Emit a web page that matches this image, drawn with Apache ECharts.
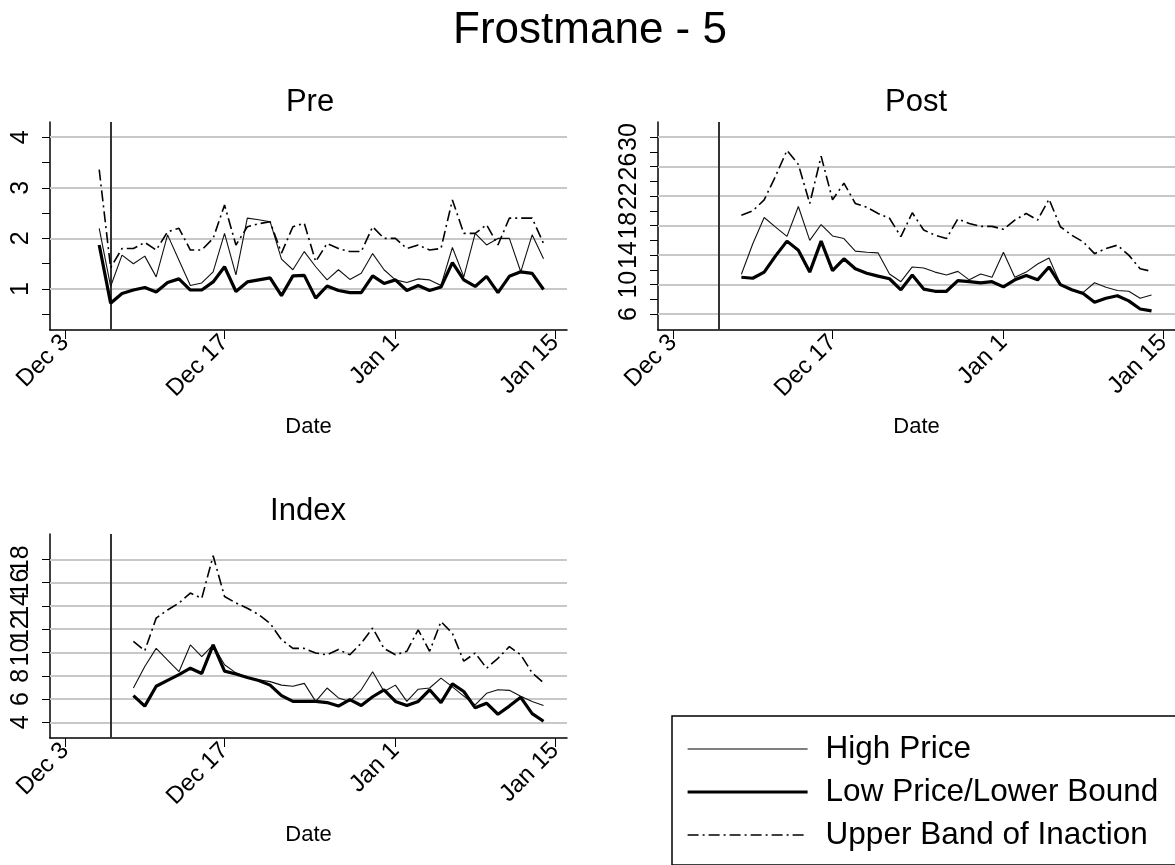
<!DOCTYPE html>
<html>
<head>
<meta charset="utf-8">
<script src="https://cdn.jsdelivr.net/npm/echarts@6/dist/echarts.min.js"></script>
<style>
  html, body { margin: 0; background: #fff; }
  #chart { width: 1175px; height: 865px; }
</style>
</head>
<body>
<div id="chart"></div>
<script>
// x ticks (dates) and their labels
const tickDates = ['2012-12-03', '2012-12-17', '2013-01-01', '2013-01-15'];
const tickLabels = ['Dec 3', 'Dec 17', 'Jan 1', 'Jan 15'];
const cutDate = '2012-12-07'; // vertical reference line

// Pre panel
const preDates = [
  '2012-12-06', '2012-12-07', '2012-12-08', '2012-12-09', '2012-12-10', '2012-12-11', '2012-12-12', '2012-12-13',
  '2012-12-14', '2012-12-15', '2012-12-16', '2012-12-17', '2012-12-18', '2012-12-19', '2012-12-20', '2012-12-21',
  '2012-12-22', '2012-12-23', '2012-12-24', '2012-12-25', '2012-12-26', '2012-12-27', '2012-12-28', '2012-12-29',
  '2012-12-30', '2012-12-31', '2013-01-01', '2013-01-02', '2013-01-03', '2013-01-04', '2013-01-05', '2013-01-06',
  '2013-01-07', '2013-01-08', '2013-01-09', '2013-01-10', '2013-01-11', '2013-01-12', '2013-01-13', '2013-01-14'
];
const preHigh = [2.2, 1.05, 1.67, 1.5, 1.65, 1.24, 2.07, 1.57, 1.07, 1.12, 1.34, 2.1, 1.28, 2.4, 2.37, 2.33,
  1.59, 1.38, 1.74, 1.44, 1.18, 1.38, 1.19, 1.31, 1.7, 1.38, 1.18, 1.13, 1.2, 1.18, 1.07, 1.82,
  1.24, 2.1, 1.87, 2.0, 2.0, 1.34, 2.07, 1.6];
const preLow = [1.87, 0.72, 0.91, 0.98, 1.03, 0.94, 1.13, 1.2, 0.98, 0.98, 1.14, 1.44, 0.95, 1.14, 1.18, 1.22,
  0.87, 1.26, 1.27, 0.82, 1.06, 0.97, 0.93, 0.93, 1.26, 1.11, 1.18, 0.97, 1.07, 0.97, 1.04, 1.52,
  1.18, 1.05, 1.25, 0.93, 1.25, 1.34, 1.31, 0.99];
const preUpper = [3.36, 1.42, 1.8, 1.8, 1.92, 1.77, 2.13, 2.2, 1.77, 1.77, 2.0, 2.66, 1.87, 2.23, 2.29, 2.33,
  1.71, 2.23, 2.3, 1.54, 1.9, 1.8, 1.74, 1.74, 2.23, 2.0, 2.0, 1.8, 1.87, 1.77, 1.8, 2.76,
  2.1, 2.1, 2.27, 1.87, 2.4, 2.4, 2.4, 1.9];

// Post and Index panels start on Dec 9
const postDates = preDates.slice(3);
const postHigh = [11.4, 15.55, 19.1, 17.8, 16.55, 20.6, 16.0, 18.15, 16.6, 16.25, 14.55, 14.4, 14.3, 11.45, 10.4,
  12.4, 12.25, 11.7, 11.3, 11.8, 10.65, 11.45, 11.0, 14.4, 11.0, 11.7, 12.8, 13.6, 10.1, 9.2, 8.95,
  10.25, 9.65, 9.2, 9.1, 8.15, 8.6];
const postLow = [11.0, 10.87, 11.7, 13.9, 15.9, 14.65, 11.7, 15.9, 11.9, 13.5, 12.15, 11.55, 11.15, 10.8, 9.3,
  11.3, 9.4, 9.1, 9.1, 10.55, 10.4, 10.25, 10.4, 9.7, 10.65, 11.25, 10.65, 12.4, 10.0, 9.3, 8.8,
  7.6, 8.15, 8.5, 7.8, 6.7, 6.45];
const postUpper = [19.4, 20.0, 21.5, 24.7, 28.2, 26.3, 21.0, 27.4, 21.5, 23.75, 21.0, 20.5, 19.65, 19.0, 16.5,
  19.75, 17.4, 16.7, 16.25, 18.9, 18.3, 17.9, 17.9, 17.5, 18.75, 19.65, 18.75, 21.6, 17.85, 16.7, 15.8,
  14.2, 14.9, 15.35, 14.0, 12.15, 11.8];

const indexDates = preDates.slice(3);
const indexHigh = [6.95, 8.8, 10.35, 9.35, 8.35, 10.65, 9.65, 10.65, 8.95, 8.25, 7.85, 7.65, 7.5, 7.2, 7.1,
  7.35, 5.8, 6.95, 6.1, 5.8, 6.8, 8.35, 6.65, 7.2, 5.8, 6.85, 6.95, 7.8, 7.05, 6.25, 5.5,
  6.5, 6.8, 6.75, 6.25, 5.8, 5.45];
const indexLow = [6.3, 5.4, 7.1, 7.6, 8.1, 8.65, 8.2, 10.65, 8.4, 8.15, 7.85, 7.6, 7.2, 6.3, 5.8,
  5.8, 5.8, 5.7, 5.4, 5.95, 5.45, 6.2, 6.8, 5.8, 5.45, 5.8, 6.8, 5.7, 7.3, 6.65, 5.25,
  5.65, 4.7, 5.4, 6.15, 4.75, 4.1];
const indexUpper = [10.95, 10.15, 12.95, 13.65, 14.25, 15.1, 14.65, 18.3, 14.8, 14.25, 13.8, 13.25, 12.5, 11.1, 10.35,
  10.35, 9.95, 9.8, 10.25, 9.8, 10.8, 12.1, 10.35, 9.8, 10.1, 11.95, 10.1, 12.65, 11.65, 9.25, 9.95,
  8.65, 9.5, 10.5, 9.8, 8.25, 7.4];

// y ticks / labels per panel
const preYTicks = [0.5, 1, 1.5, 2, 2.5, 3, 3.5, 4];
const preYLabels = [1, 2, 3, 4];
const postYTicks = [6, 8, 10, 12, 14, 16, 18, 20, 22, 24, 26, 28, 30];
const postYLabels = [6, 10, 14, 18, 22, 26, 30];
const indexYTicks = [4, 6, 8, 10, 12, 14, 16, 18];
const indexYLabels = [4, 6, 8, 10, 12, 14, 16, 18];

const FONT = 'Liberation Sans, Arial, sans-serif';
const base = Date.parse('2012-12-03');
const dayOf = s => (Date.parse(s) - base) / 86400000;
const tickDays = tickDates.map(dayOf);

const names = ['High Price', 'Low Price/Lower Bound', 'Upper Band of Inaction'];
const styles = [
  { color: '#111', width: 1.1 },
  { color: '#000', width: 3.2 },
  { color: '#000', width: 1.6, type: [11, 4, 2, 4] }
];

function makeX(gi) {
  return {
    type: 'value', gridIndex: gi, min: -1.32, max: 44.06,
    splitLine: { show: false },
    axisLine: { onZero: false, lineStyle: { color: '#000', width: 1.5 } },
    axisTick: { length: 9, customValues: tickDays, lineStyle: { color: '#000', width: 1 } },
    axisLabel: {
      rotate: 45, margin: 9, fontSize: 24, color: '#000', fontFamily: FONT,
      hideOverlap: false, customValues: tickDays,
      formatter: v => tickLabels[tickDays.indexOf(v)] || ''
    },
    name: 'Date', nameLocation: 'middle', nameGap: 86,
    nameTextStyle: { fontSize: 22, color: '#000', fontFamily: FONT }
  };
}

function makeY(gi, min, max, ticks, labels) {
  // empty labels at both ends keep the real end labels out of the min/max overlap check
  return {
    type: 'value', gridIndex: gi, min: min, max: max,
    splitLine: { show: false },
    axisLine: { show: true, onZero: false, lineStyle: { color: '#000', width: 1.5 } },
    axisTick: { show: true, length: 8, customValues: ticks, lineStyle: { color: '#000', width: 1 } },
    axisLabel: {
      rotate: 90, margin: 16, fontSize: 25, color: '#000', fontFamily: FONT,
      hideOverlap: false,
      customValues: [min].concat(labels, [max]),
      formatter: v => (labels.indexOf(v) >= 0 ? String(v) : '')
    }
  };
}

function panelSeries(gi, dates, values, gridVals) {
  const xs = dates.map(dayOf);
  return values.map((vals, i) => {
    const s = {
      name: names[i], type: 'line', xAxisIndex: gi, yAxisIndex: gi,
      symbol: 'none', z: 3 + i,
      lineStyle: styles[i], itemStyle: { color: styles[i].color },
      data: xs.map((x, k) => [x, vals[k]])
    };
    if (i === 0) {
      s.markLine = {
        silent: true, symbol: 'none', z: 1, label: { show: false },
        data: gridVals.map(v => ({ yAxis: v, lineStyle: { color: '#c8c8c8', width: 2, type: 'solid' } }))
          .concat([{ xAxis: dayOf(cutDate), lineStyle: { color: '#333', width: 2, type: 'solid' } }])
      };
    }
    return s;
  });
}

const chart = echarts.init(document.getElementById('chart'));

const option = {
  animation: false,
  backgroundColor: '#fff',
  textStyle: { fontFamily: FONT },
  title: [
    { text: 'Frostmane - 5', left: 590, top: 9, textAlign: 'center', padding: 0,
      textStyle: { fontSize: 44, fontWeight: 'normal', color: '#000', fontFamily: FONT } },
    { text: 'Pre', left: 310, top: 87, textAlign: 'center', padding: 0,
      textStyle: { fontSize: 31, fontWeight: 'normal', color: '#000', fontFamily: FONT } },
    { text: 'Post', left: 916, top: 87, textAlign: 'center', padding: 0,
      textStyle: { fontSize: 31, fontWeight: 'normal', color: '#000', fontFamily: FONT } },
    { text: 'Index', left: 308, top: 496, textAlign: 'center', padding: 0,
      textStyle: { fontSize: 31, fontWeight: 'normal', color: '#000', fontFamily: FONT } }
  ],
  legend: {
    data: names, orient: 'vertical', left: 672, top: 716, height: 200,
    itemWidth: 120, itemHeight: 16, itemGap: 11,
    padding: [17, 30, 14, 14],
    borderColor: '#000', borderWidth: 1.5,
    itemStyle: { opacity: 0 },
    lineStyle: { width: 'inherit', color: '#000' },
    textStyle: { fontSize: 31.5, color: '#000', fontFamily: FONT, padding: [0, 0, 0, 13] }
  },
  grid: [
    { left: 50, top: 122, width: 517, height: 208 },
    { left: 658, top: 122, width: 517, height: 208 },
    { left: 50, top: 534, width: 517, height: 204 }
  ],
  xAxis: [makeX(0), makeX(1), makeX(2)],
  yAxis: [
    makeY(0, 0.19, 4.3, preYTicks, preYLabels),
    makeY(1, 3.85, 32.05, postYTicks, postYLabels),
    makeY(2, 2.66, 20.17, indexYTicks, indexYLabels)
  ],
  series: [].concat(
    panelSeries(0, preDates, [preHigh, preLow, preUpper], preYLabels),
    panelSeries(1, postDates, [postHigh, postLow, postUpper], postYLabels),
    panelSeries(2, indexDates, [indexHigh, indexLow, indexUpper], indexYLabels)
  )
};

chart.setOption(option);
</script>
</body>
</html>
